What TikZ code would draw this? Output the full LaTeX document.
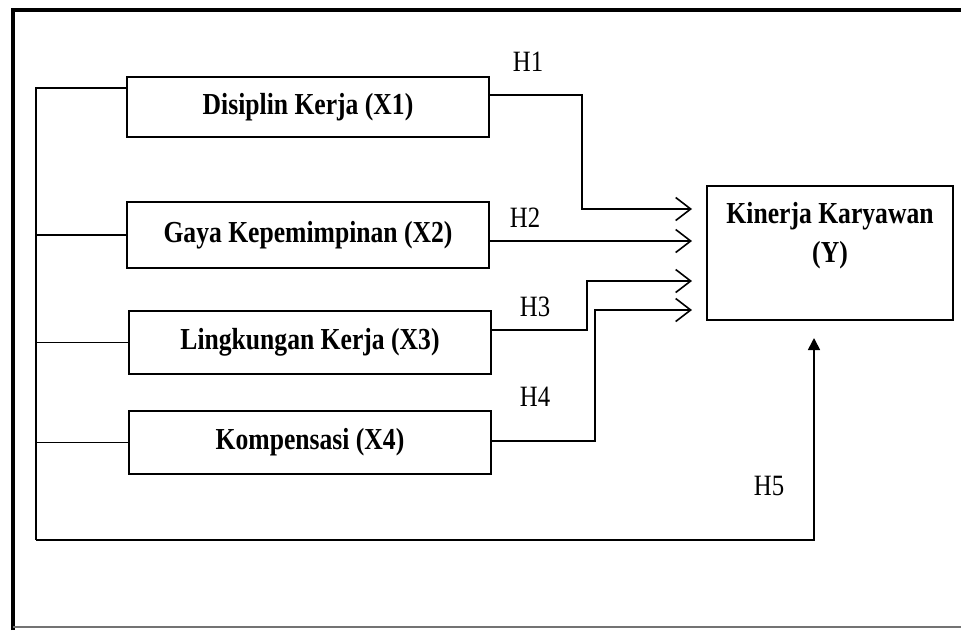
\documentclass[tikz,border=0pt]{standalone}
\usepackage{fontspec}
\setmainfont[FakeStretch=0.84]{Liberation Serif}
\usepackage{tikz}
\usetikzlibrary{arrows.meta,positioning}

\tikzset{
    var/.style={draw, rectangle, line width=1.6pt, minimum width=362pt, inner sep=0pt,
        font=\fontsize{30.5}{39}\selectfont\bfseries},
    hyp/.style={line width=1.6pt, -{Straight Barb[length=15pt,width=23pt]}},
    wire/.style={line width=1.6pt},
    hlabel/.style={font=\fontsize{29.5}{34}\selectfont, inner sep=0pt}
}

\begin{document}
\begin{tikzpicture}[x=1pt, y=-1pt]
    \useasboundingbox (0,0) rectangle (961,630);
    \draw[line width=4.5pt] (13,630) -- (13,10) -- (961,10);
    \draw[line width=1.2pt, black!55] (13,627) -- (961,627);

    \node[var, minimum height=60pt] (X1) at (308,107) {Disiplin Kerja (X1)};
    \node[var, minimum height=66pt] (X2) at (308,235) {Gaya Kepemimpinan (X2)};
    \node[var, minimum height=63pt] (X3) at (310,342.5) {Lingkungan Kerja (X3)};
    \node[var, minimum height=63pt] (X4) at (310,442.5) {Kompensasi (X4)};
    \node[var, minimum width=246pt, minimum height=134pt] (Y) at (830,253) {};
    \node[var, draw=none, align=center, below=16pt of Y.north] (Ytext) {Kinerja Karyawan\\(Y)};

    \coordinate (bustop) at (36,88);
    \coordinate (busbot) at (36,540);
    \coordinate (h5end) at (814,338);
    \draw[wire] (X1.west |- bustop) -- (bustop) -- (busbot);
    \draw[wire] (busbot |- X2.west) -- (X2.west);
    \draw[wire] (busbot |- X3.west) -- (X3.west);
    \draw[wire] (busbot |- X4.west) -- (X4.west);
    \draw[wire, -{Triangle[length=12pt,width=12pt]}] (busbot) -| (h5end);

    \coordinate (k1) at (582,95);
    \coordinate (e1) at (692,209);
    \coordinate (e2) at (692,241);
    \coordinate (k3) at (587,330);
    \coordinate (e3) at (692,281);
    \coordinate (k4) at (595,441);
    \coordinate (e4) at (692,310);
    \draw[hyp] (X1.east |- k1) -- (k1) |- (e1);
    \draw[hyp] (X2.east |- e2) -- (e2);
    \draw[hyp] (X3.east |- k3) -- (k3) |- (e3);
    \draw[hyp] (X4.east |- k4) -- (k4) |- (e4);

    \node[hlabel] (H1) at (528,62) {H1};
    \node[hlabel] (H2) at (525,218) {H2};
    \node[hlabel] (H3) at (535,307) {H3};
    \node[hlabel] (H4) at (535,397) {H4};
    \node[hlabel] (H5) at (769,486) {H5};
\end{tikzpicture}
\end{document}
